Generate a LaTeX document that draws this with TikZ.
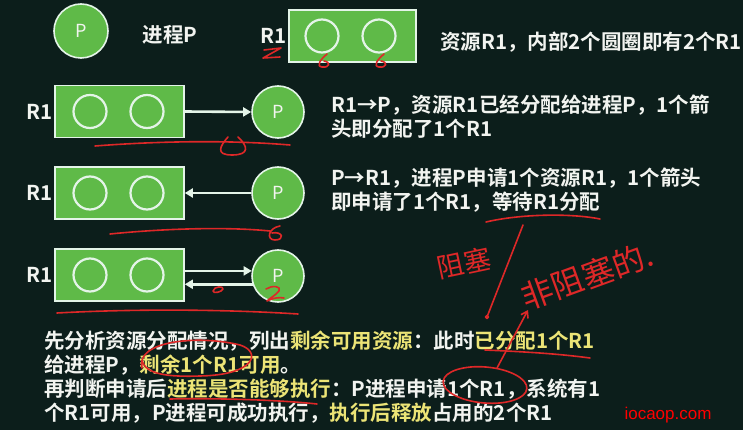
\documentclass[tikz,border=0pt]{standalone}
\usepackage{fontspec}
\setmainfont{Noto Sans CJK SC}[BoldFont={Noto Sans CJK SC Bold}]
\newfontfamily\wmfont{Liberation Sans}
\usetikzlibrary{arrows.meta}
\definecolor{bg}{RGB}{12,30,27}
\definecolor{gn}{RGB}{95,186,72}
\definecolor{ol}{RGB}{228,244,232}
\definecolor{txt}{RGB}{242,244,240}
\definecolor{yl}{RGB}{236,228,118}
\definecolor{ink}{RGB}{222,40,40}
\newcommand{\yel}[1]{\textcolor{yl}{#1}}
\begin{document}
\begin{tikzpicture}[x=1pt,y=-1pt,
  proc/.style={circle, fill=gn, draw=ol, line width=1.6pt, minimum size=53pt, inner sep=0pt, text=txt, font=\fontsize{18}{18}\selectfont},
  res/.style={rectangle, fill=gn, draw=ol, line width=1.6pt, minimum width=129pt, minimum height=52pt, inner sep=0pt},
  slot/.style={circle, draw=ol, line width=2.2pt, minimum size=33pt, inner sep=0pt},
  lbl/.style={text=txt, font=\bfseries\fontsize{20.5}{24}\selectfont, inner sep=0pt},
  desc/.style={lbl, align=left, anchor=west},
  link/.style={draw=ol, line width=2.6pt, -{Triangle[length=8pt,width=9pt]}},
  ink/.style={draw=ink, line width=1.6pt, line cap=round, line join=round},
  hand/.style={text=ink, inner sep=0pt}]
\fill[bg] (0,0) rectangle (743,430);
\useasboundingbox (0,0) rectangle (743,430);

% legend row
\node[proc, minimum size=54pt] (p0) at (81,31) {P};
\node[lbl] (t0) at (170,35) {进程P};
\node[res, minimum width=127pt] (r0) at (352.5,36) {};
\node[slot] (s01) at (322,36) {};
\node[slot] (s02) at (379,36) {};
\node[lbl, anchor=east] (l0) at ([xshift=-1.5pt]r0.west) {R1};
\node[desc] (d0) at (440,42) {资源R1，内部2个圆圈即有2个R1};

% row 2: allocation
\node[res] (r1) at (119.5,111.5) {};
\node[slot] (s11) at (90,111.5) {};
\node[slot] (s12) at (147,111.5) {};
\node[lbl, anchor=east] (l1) at ([xshift=-1.5pt]r1.west) {R1};
\node[proc, minimum size=52pt] (p1) at (278,112) {P};
\draw[link] (r1.east) -- (p1.west);
\node[desc] (d1) at (331,116.5) {R1→P，资源R1已经分配给进程P，1个箭\\头即分配了1个R1};

% row 3: request
\node[res] (r2) at (119.5,193) {};
\node[slot] (s21) at (90,193) {};
\node[slot] (s22) at (147,193) {};
\node[lbl, anchor=east] (l2) at ([xshift=-1.5pt]r2.west) {R1};
\node[proc, minimum size=52pt] (p2) at (278,193) {P};
\draw[link] (p2.west) -- (r2.east);
\node[desc] (d2) at (331,190) {P→R1，进程P申请1个资源R1，1个箭头\\即申请了1个R1，等待R1分配};

% row 4: both
\node[res] (r3) at (119.5,275) {};
\node[slot] (s31) at (90,275) {};
\node[slot] (s32) at (147,275) {};
\node[lbl, anchor=east] (l3) at ([xshift=-1.5pt]r3.west) {R1};
\node[proc, minimum size=52pt] (p3) at (278,276) {P};
\draw[link] (r3.east |- p3.169) -- (p3.169);
\draw[link] (p3.198) -- (r3.east |- p3.198);

% explanation
\node[desc] (d3) at (44,377) {先分析资源分配情况，列出\yel{剩余可用资源}：此时\yel{已分配1个R1}\\
给进程P，\yel{剩余1个R1可用}。\\
再判断申请后\yel{进程是否能够执行}：P进程申请1个R1，系统有1\\
个R1可用，P进程可成功执行，\yel{执行后释放}占用的2个R1};

\node[text=red, inner sep=0pt, font=\wmfont\fontsize{17}{17}\selectfont] (wm) at (668,415) {iocaop.com};

% handwritten red annotations
\draw[ink] (264,50) -- (281,48) -- (263,58) -- (280,57);
\draw[ink] (327,54) .. controls (320,60) and (316,66) .. (322,67) .. controls (330,68) and (331,62) .. (324,61);
\draw[ink] (384,54) .. controls (377,60) and (373,66) .. (379,67) .. controls (387,68) and (388,62) .. (381,61);
\draw[ink] (95,146) .. controls (160,141) and (230,140) .. (290,145);
\draw[ink] (228,137) .. controls (220,146) and (215,155) .. (232,155) .. controls (250,155) and (248,146) .. (238,137);
\draw[ink] (110,234) .. controls (170,228) and (230,227) .. (270,231);
\draw[ink] (280,226) .. controls (268,228) and (266,240) .. (275,240) .. controls (285,240) and (283,231) .. (272,233);
\draw[ink] (213,291) .. controls (214,286) and (224,286) .. (223,289) .. controls (222,292) and (213,294) .. (213,291);
\draw[ink] (266,289) .. controls (272,285) and (282,286) .. (279,291) .. controls (276,295) and (270,298) .. (267,301) .. controls (273,298) and (279,297) .. (284,298);
\draw[ink] (57,313) .. controls (130,309) and (220,309) .. (298,314);
\draw[ink] (486,222) .. controls (520,214) and (570,213) .. (600,219);
\coordinate (sl1) at (523,225);
\coordinate (sl2) at (487,317);
\draw[ink] (sl1) -- (sl2);
\fill[ink] (sl2) circle (1.5pt);
\node[hand, rotate=12, font=\fontsize{27}{27}\selectfont] (h1) at (464,263) {阻塞};
\node[hand, rotate=20, font=\fontsize{32}{32}\selectfont] (h2) at (587,276) {非阻塞的.};
\coordinate (ar1) at (497,368);
\coordinate (ar2) at (528,310);
\draw[ink, -{Straight Barb[length=6pt,width=8pt]}] (ar1) -- (ar2);
\draw[ink, rotate around={-5:(485,385)}] (485,385) ellipse (42pt and 18pt);
\draw[ink] (485,350) .. controls (530,352) and (560,354) .. (590,358);
\draw[ink] (142,368) .. controls (135,340) and (200,335) .. (240,345) .. controls (262,352) and (255,375) .. (200,376) .. controls (170,377) and (145,375) .. (142,360);
\draw[ink] (170,399) .. controls (220,398) and (280,400) .. (317,404);
\end{tikzpicture}
\end{document}
